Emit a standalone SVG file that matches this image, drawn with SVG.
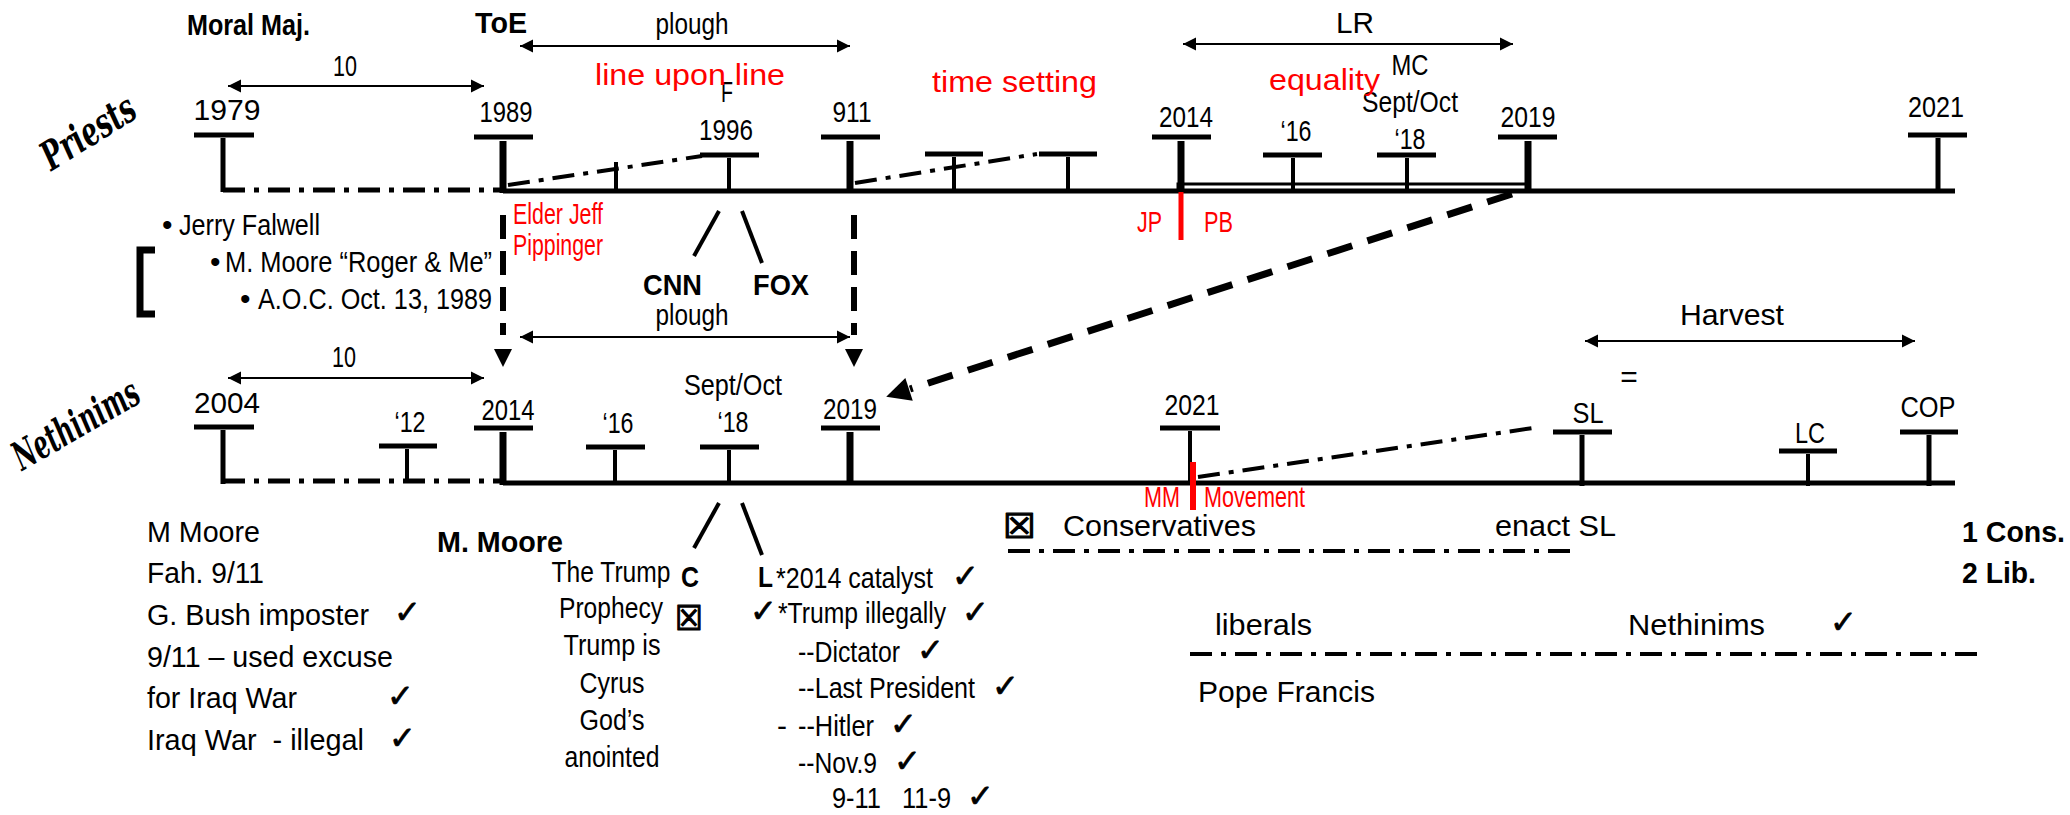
<svg xmlns="http://www.w3.org/2000/svg" width="2070" height="815" viewBox="0 0 2070 815">
<defs>
<style>
.t{font-family:'Liberation Sans Narrow','Liberation Sans',Arial,sans-serif;font-size:30px;fill:#000;white-space:pre}
.w{font-family:'Liberation Sans',Arial,sans-serif;font-size:30px;fill:#000;white-space:pre}
.b{font-weight:bold}
.m{text-anchor:middle}
.red{fill:#ff0000}
.sc{font-family:'DejaVu Serif',serif;font-style:italic;font-weight:bold;font-size:40px;fill:#000}
.ck{font-family:'DejaVu Sans',sans-serif;font-size:32px;fill:#000;stroke:#000;stroke-width:0.8}
.bx{font-family:'DejaVu Sans',sans-serif;font-size:34px;font-weight:bold;fill:#000;stroke:#000;stroke-width:1.2}
.k{stroke:#000;fill:none;stroke-linecap:butt}
.bar{stroke:#000;stroke-width:5}
.v4{stroke:#000;stroke-width:4}
.v7{stroke:#000;stroke-width:7}
.base{stroke:#000;stroke-width:5}
.dd{stroke:#000;fill:none;stroke-dasharray:22 9 5 9}
.thin{stroke:#000;stroke-width:2;fill:none;marker-start:url(#ah);marker-end:url(#ah)}
.rl{stroke:#ff0000}
</style>
<marker id="ah" markerUnits="userSpaceOnUse" orient="auto-start-reverse" overflow="visible" markerWidth="12" markerHeight="12" refX="0" refY="0">
<path d="M-13,-6.5 L0,0 L-13,6.5 z" fill="#000"/>
</marker>
<marker id="dh" markerUnits="userSpaceOnUse" orient="auto" overflow="visible" markerWidth="32" markerHeight="18" refX="0" refY="0">
<path d="M14,-9 L32,0 L14,9 z" fill="#000"/>
</marker>
<marker id="bh" markerUnits="userSpaceOnUse" orient="auto" overflow="visible" markerWidth="26" markerHeight="24" refX="0" refY="0">
<path d="M1,-12 L25,0 L1,12 z" fill="#000"/>
</marker>
</defs>
<rect width="2070" height="815" fill="#fff"/>

<!-- Priests timeline -->
<g id="priests-label"><text class="sc" x="88" y="146" text-anchor="middle" textLength="104" lengthAdjust="spacingAndGlyphs" transform="rotate(-32 88 132)">Priests</text></g>
<g id="priests-line">
<line class="base" x1="503" y1="191" x2="1955" y2="191"/>
<line class="dd" stroke-width="5" x1="223" y1="190" x2="503" y2="190"/>
<path class="k" stroke-width="3" d="M1178,193 V184 H1527 V191"/>
</g>
<g id="p1979"><line class="bar" x1="194" y1="135" x2="254" y2="135"/><line class="bar" x1="223" y1="138" x2="223" y2="192"/><text class="w m" x="227" y="120" textLength="67" lengthAdjust="spacingAndGlyphs">1979</text></g>
<g id="p1989"><line class="bar" x1="474" y1="137" x2="533" y2="137"/><line class="v7" x1="503" y1="141" x2="503" y2="193"/><text class="t m" x="506" y="122" textLength="53" lengthAdjust="spacingAndGlyphs">1989</text></g>
<g id="p-small"><line class="v4" x1="616" y1="162" x2="616" y2="191"/></g>
<g id="p1996"><line class="bar" x1="700" y1="155" x2="759" y2="155"/><line class="v4" x1="729" y1="158" x2="729" y2="191"/><text class="t m" x="726" y="140" textLength="54" lengthAdjust="spacingAndGlyphs">1996</text><text class="t m" x="727" y="102" font-size="27" textLength="12" lengthAdjust="spacingAndGlyphs">F</text></g>
<g id="p911"><line class="bar" x1="821" y1="137" x2="880" y2="137"/><line class="v7" x1="850" y1="141" x2="850" y2="193"/><text class="t m" x="852" y="122" textLength="39" lengthAdjust="spacingAndGlyphs">911</text></g>
<g id="p-tickA"><line class="bar" x1="925" y1="154" x2="983" y2="154"/><line class="v4" x1="954" y1="157" x2="954" y2="191"/></g>
<g id="p-tickB"><line class="bar" x1="1039" y1="154" x2="1097" y2="154"/><line class="v4" x1="1068" y1="157" x2="1068" y2="191"/></g>
<g id="p2014"><line class="bar" x1="1152" y1="137" x2="1211" y2="137"/><line class="v7" x1="1181" y1="141" x2="1181" y2="193"/><text class="t m" x="1186" y="127" textLength="54" lengthAdjust="spacingAndGlyphs">2014</text></g>
<g id="p16"><line class="bar" x1="1263" y1="155" x2="1322" y2="155"/><line class="v4" x1="1293" y1="158" x2="1293" y2="191"/><text class="t m" x="1296" y="141" textLength="31" lengthAdjust="spacingAndGlyphs">‘16</text></g>
<g id="p18"><line class="bar" x1="1377" y1="155" x2="1436" y2="155"/><line class="v4" x1="1407" y1="158" x2="1407" y2="191"/><text class="t m" x="1410" y="149" textLength="31" lengthAdjust="spacingAndGlyphs">‘18</text><text class="t m" x="1410" y="112" textLength="96" lengthAdjust="spacingAndGlyphs">Sept/Oct</text><text class="t m" x="1410" y="75" textLength="37" lengthAdjust="spacingAndGlyphs">MC</text></g>
<g id="p2019"><line class="bar" x1="1498" y1="137" x2="1557" y2="137"/><line class="v7" x1="1528" y1="141" x2="1528" y2="193"/><text class="t m" x="1528" y="127" textLength="55" lengthAdjust="spacingAndGlyphs">2019</text></g>
<g id="p2021"><line class="bar" x1="1908" y1="135" x2="1967" y2="135"/><line class="bar" x1="1938" y1="138" x2="1938" y2="191"/><text class="t m" x="1936" y="117" textLength="56" lengthAdjust="spacingAndGlyphs">2021</text></g>
<g id="p-jp"><line class="rl" stroke-width="5" x1="1181" y1="192" x2="1181" y2="240"/><text class="t red" x="1137" y="232" font-size="25" textLength="25" lengthAdjust="spacingAndGlyphs">JP</text><text class="t red" x="1204" y="232" font-size="25" textLength="29" lengthAdjust="spacingAndGlyphs">PB</text></g>
<g id="top-labels">
<text class="t b" x="187" y="35" textLength="123" lengthAdjust="spacingAndGlyphs">Moral Maj.</text>
<text class="t b" x="475" y="33" textLength="52" lengthAdjust="spacingAndGlyphs">ToE</text>
<text class="t m" x="345" y="76" textLength="24" lengthAdjust="spacingAndGlyphs">10</text>
<text class="t m" x="692" y="34" font-size="29" textLength="73" lengthAdjust="spacingAndGlyphs">plough</text>
<text class="t m" x="1355" y="33" textLength="38" lengthAdjust="spacingAndGlyphs">LR</text>
<text class="t red" x="595" y="85" font-size="40" textLength="190" lengthAdjust="spacingAndGlyphs">line upon line</text>
<text class="t red" x="932" y="92" font-size="40" textLength="165" lengthAdjust="spacingAndGlyphs">time setting</text>
<text class="t red" x="1269" y="90" font-size="40" textLength="111" lengthAdjust="spacingAndGlyphs">equality</text>
<text class="t red" x="513" y="224" font-size="25" textLength="90" lengthAdjust="spacingAndGlyphs">Elder Jeff</text>
<text class="t red" x="513" y="255" font-size="25" textLength="90" lengthAdjust="spacingAndGlyphs">Pippinger</text>
<text class="t b" x="643" y="295" font-size="33" textLength="59" lengthAdjust="spacingAndGlyphs">CNN</text>
<text class="t b" x="753" y="295" font-size="33" textLength="56" lengthAdjust="spacingAndGlyphs">FOX</text>
<text class="t m" x="692" y="325" font-size="29" textLength="73" lengthAdjust="spacingAndGlyphs">plough</text>
</g>
<g id="bullets">
<text class="t" x="162" y="235">•</text><text class="t" x="179" y="235" textLength="141" lengthAdjust="spacingAndGlyphs">Jerry Falwell</text>
<text class="t" x="210" y="272">•</text><text class="t" x="225" y="272" textLength="267" lengthAdjust="spacingAndGlyphs">M. Moore “Roger &amp; Me”</text>
<text class="t" x="240" y="309">•</text><text class="t" x="258" y="309" textLength="234" lengthAdjust="spacingAndGlyphs">A.O.C. Oct. 13, 1989</text>
<path class="k" stroke-width="7" d="M155,250 H140 V314 H155"/>
</g>

<!-- Nethinims timeline -->
<g id="nethinims-label"><text class="sc" x="76" y="438" text-anchor="middle" textLength="140" lengthAdjust="spacingAndGlyphs" transform="rotate(-30 76 425)">Nethinims</text></g>
<g id="nethinims-line">
<line class="base" x1="503" y1="483" x2="1955" y2="483"/>
<line class="dd" stroke-width="5" x1="223" y1="481" x2="503" y2="481"/>
</g>
<g id="n2004"><line class="bar" x1="194" y1="427" x2="254" y2="427"/><line class="bar" x1="223" y1="430" x2="223" y2="484"/><text class="w m" x="227" y="413" textLength="66" lengthAdjust="spacingAndGlyphs">2004</text></g>
<g id="n12"><line class="bar" x1="379" y1="446" x2="437" y2="446"/><line class="v4" x1="407" y1="449" x2="407" y2="483"/><text class="t m" x="410" y="432" textLength="31" lengthAdjust="spacingAndGlyphs">‘12</text></g>
<g id="n2014"><line class="bar" x1="474" y1="428" x2="533" y2="428"/><line class="v7" x1="503" y1="432" x2="503" y2="485"/><text class="t m" x="508" y="420" textLength="53" lengthAdjust="spacingAndGlyphs">2014</text></g>
<g id="n16"><line class="bar" x1="586" y1="447" x2="645" y2="447"/><line class="v4" x1="615" y1="450" x2="615" y2="483"/><text class="t m" x="618" y="433" textLength="31" lengthAdjust="spacingAndGlyphs">‘16</text></g>
<g id="n18"><line class="bar" x1="700" y1="447" x2="759" y2="447"/><line class="v4" x1="729" y1="450" x2="729" y2="483"/><text class="t m" x="733" y="432" textLength="31" lengthAdjust="spacingAndGlyphs">‘18</text><text class="t m" x="733" y="395" textLength="98" lengthAdjust="spacingAndGlyphs">Sept/Oct</text></g>
<g id="n2019"><line class="bar" x1="821" y1="428" x2="880" y2="428"/><line class="v7" x1="850" y1="432" x2="850" y2="485"/><text class="t m" x="850" y="419" textLength="54" lengthAdjust="spacingAndGlyphs">2019</text></g>
<g id="n2021"><line class="bar" x1="1160" y1="428" x2="1220" y2="428"/><line class="v4" x1="1190" y1="431" x2="1190" y2="483"/><text class="t m" x="1192" y="415" textLength="55" lengthAdjust="spacingAndGlyphs">2021</text></g>
<g id="n-mm"><line class="rl" stroke-width="6" x1="1193" y1="462" x2="1193" y2="510"/><text class="t red" x="1144" y="507" font-size="24" textLength="36" lengthAdjust="spacingAndGlyphs">MM</text><text class="t red" x="1204" y="507" font-size="24" textLength="101" lengthAdjust="spacingAndGlyphs">Movement</text></g>
<g id="nSL"><line class="bar" x1="1553" y1="432" x2="1612" y2="432"/><line class="bar" x1="1582" y1="435" x2="1582" y2="486" stroke-width="6"/><text class="t m" x="1588" y="423" textLength="31" lengthAdjust="spacingAndGlyphs">SL</text><text class="w m" x="1629" y="387">=</text></g>
<g id="nLC"><line class="bar" x1="1779" y1="451" x2="1837" y2="451"/><line class="v4" x1="1808" y1="454" x2="1808" y2="486"/><text class="t m" x="1810" y="443" textLength="30" lengthAdjust="spacingAndGlyphs">LC</text></g>
<g id="nCOP"><line class="bar" x1="1900" y1="432" x2="1958" y2="432"/><line class="bar" x1="1929" y1="435" x2="1929" y2="486" stroke-width="6"/><text class="t m" x="1928" y="417" textLength="55" lengthAdjust="spacingAndGlyphs">COP</text></g>
<g id="n-labels">
<text class="t m" x="344" y="367" textLength="24" lengthAdjust="spacingAndGlyphs">10</text>
<text class="w m" x="1732" y="325" textLength="104" lengthAdjust="spacingAndGlyphs">Harvest</text>
</g>

<!-- bottom texts -->
<g id="mmoore-left">
<text class="t" x="147" y="542" textLength="113" lengthAdjust="spacingAndGlyphs">M Moore</text>
<text class="t" x="147" y="583" textLength="117" lengthAdjust="spacingAndGlyphs">Fah. 9/11</text>
<text class="t" x="147" y="625" textLength="222" lengthAdjust="spacingAndGlyphs">G. Bush imposter</text><text class="ck" x="394" y="623">✓</text>
<text class="t" x="147" y="667" textLength="246" lengthAdjust="spacingAndGlyphs">9/11 – used excuse</text>
<text class="t" x="147" y="708" textLength="150" lengthAdjust="spacingAndGlyphs">for Iraq War</text><text class="ck" x="387" y="707">✓</text>
<text class="t" x="147" y="750" textLength="217" lengthAdjust="spacingAndGlyphs">Iraq War  - illegal</text><text class="ck" x="389" y="749">✓</text>
</g>
<g id="mmoore-mid">
<text class="t b" x="437" y="552" font-size="32" textLength="126" lengthAdjust="spacingAndGlyphs">M. Moore</text>
<text class="t m" x="611" y="582" textLength="119" lengthAdjust="spacingAndGlyphs">The Trump</text>
<text class="t b" x="681" y="587" font-size="33" textLength="18" lengthAdjust="spacingAndGlyphs">C</text>
<text class="t m" x="611" y="618" textLength="104" lengthAdjust="spacingAndGlyphs">Prophecy</text>
<text class="bx" x="675" y="630" textLength="28" lengthAdjust="spacingAndGlyphs">☒</text>
<text class="t m" x="612" y="655" textLength="97" lengthAdjust="spacingAndGlyphs">Trump is</text>
<text class="t m" x="612" y="693" textLength="65" lengthAdjust="spacingAndGlyphs">Cyrus</text>
<text class="t m" x="612" y="730" textLength="65" lengthAdjust="spacingAndGlyphs">God’s</text>
<text class="t m" x="612" y="767" textLength="95" lengthAdjust="spacingAndGlyphs">anointed</text>
</g>
<g id="liberal-list">
<text class="t b" x="758" y="587" font-size="33" textLength="15" lengthAdjust="spacingAndGlyphs">L</text>
<text class="t" x="776" y="588" textLength="157" lengthAdjust="spacingAndGlyphs">*2014 catalyst</text><text class="ck" x="952" y="587">✓</text>
<text class="ck" x="750" y="622">✓</text><text class="t" x="778" y="623" textLength="168" lengthAdjust="spacingAndGlyphs">*Trump illegally</text><text class="ck" x="962" y="623">✓</text>
<text class="t" x="798" y="662" textLength="102" lengthAdjust="spacingAndGlyphs">--Dictator</text><text class="ck" x="917" y="661">✓</text>
<text class="t" x="798" y="698" textLength="177" lengthAdjust="spacingAndGlyphs">--Last President</text><text class="ck" x="992" y="697">✓</text>
<text class="t" x="777" y="736">-</text><text class="t" x="798" y="736" textLength="76" lengthAdjust="spacingAndGlyphs">--Hitler</text><text class="ck" x="890" y="735">✓</text>
<text class="t" x="798" y="773" textLength="79" lengthAdjust="spacingAndGlyphs">--Nov.9</text><text class="ck" x="894" y="772">✓</text>
<text class="t" x="832" y="808" textLength="119" lengthAdjust="spacingAndGlyphs">9-11   11-9</text><text class="ck" x="967" y="807">✓</text>
</g>
<g id="conservatives">
<text class="bx" x="1003" y="538" textLength="33" lengthAdjust="spacingAndGlyphs">☒</text>
<text class="w" x="1063" y="536" textLength="193" lengthAdjust="spacingAndGlyphs">Conservatives</text>
<text class="w" x="1495" y="536" textLength="121" lengthAdjust="spacingAndGlyphs">enact SL</text>
<line class="dd" stroke-width="4" x1="1008" y1="551" x2="1577" y2="551"/>
</g>
<g id="cons-lib">
<text class="w b" x="1962" y="542" textLength="103" lengthAdjust="spacingAndGlyphs">1 Cons.</text>
<text class="w b" x="1962" y="583" textLength="74" lengthAdjust="spacingAndGlyphs">2 Lib.</text>
</g>
<g id="liberals">
<text class="w" x="1215" y="635" textLength="97" lengthAdjust="spacingAndGlyphs">liberals</text>
<text class="w" x="1628" y="635" textLength="137" lengthAdjust="spacingAndGlyphs">Nethinims</text><text class="ck" x="1830" y="633">✓</text>
<line class="dd" stroke-width="4" x1="1190" y1="654" x2="1982" y2="654"/>
<text class="w" x="1198" y="702" textLength="177" lengthAdjust="spacingAndGlyphs">Pope Francis</text>
</g>

<!-- connectors -->
<g id="connectors">
<line class="thin" x1="228" y1="86" x2="484" y2="86"/>
<line class="thin" x1="520" y1="46" x2="850" y2="46"/>
<line class="thin" x1="1183" y1="44" x2="1513" y2="44"/>
<line class="thin" x1="520" y1="337" x2="850" y2="337"/>
<line class="thin" x1="228" y1="378" x2="484" y2="378"/>
<line class="thin" x1="1585" y1="341" x2="1915" y2="341"/>
<line class="dd" stroke-width="4" x1="508" y1="185" x2="702" y2="156"/>
<line class="dd" stroke-width="4" x1="855" y1="183" x2="1037" y2="154"/>
<line class="dd" stroke-width="4" x1="1198" y1="477" x2="1540" y2="427"/>
<line class="k" stroke-width="4" x1="719" y1="211" x2="694" y2="256"/>
<line class="k" stroke-width="4" x1="742" y1="211" x2="762" y2="263"/>
<line class="k" stroke-width="4" x1="719" y1="503" x2="694" y2="548"/>
<line class="k" stroke-width="4" x1="742" y1="503" x2="762" y2="555"/>
<line class="k" stroke-width="6" stroke-dasharray="24 12" x1="503" y1="215" x2="503" y2="335" marker-end="url(#dh)"/>
<line class="k" stroke-width="6" stroke-dasharray="24 12" x1="854" y1="215" x2="854" y2="335" marker-end="url(#dh)"/>
<line class="k" stroke-width="7" stroke-dasharray="26 16" x1="1512" y1="194" x2="910" y2="389" marker-end="url(#bh)"/>
</g>
</svg>
